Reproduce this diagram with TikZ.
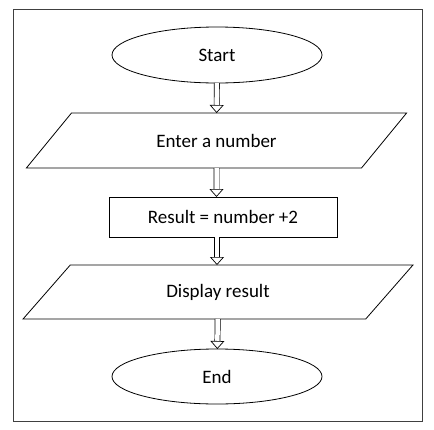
\documentclass[tikz,border=0pt]{standalone}
\usepackage{fontspec}
\setmainfont{Carlito}
\usetikzlibrary{shapes.geometric,arrows.meta}
\begin{document}
\begin{tikzpicture}[x=1pt,y=-1pt,
	every node/.style={font=\fontsize{19}{22}\selectfont,inner sep=0pt,outer sep=0pt,line width=0.8pt},
	term/.style={ellipse,draw,minimum width=210pt,minimum height=56pt},
	io/.style={trapezium,trapezium stretches=true,draw,minimum height=55pt},
	proc/.style={rectangle,draw,minimum width=228pt,minimum height=40pt},
	flow/.style={double,double distance=4.5pt,line width=0.7pt,-{Triangle[open,length=8pt,width=14pt]}}]
\useasboundingbox (0,0) rectangle (434,429);
\draw[line width=0.9pt,black!75] (13,9) rectangle (422,421);

\node[term] at (217,55) (start) {Start};
\node[io,trapezium left angle=35.5,trapezium right angle=144.5,minimum width=381pt] at (216.5,140.5) (enter) {Enter a number};
\node[proc] at (223,217) (calc) {Result = number +2};
\node[io,trapezium left angle=44.5,trapezium right angle=135.5,minimum width=390pt,minimum height=54pt] at (218,292) (show) {Display result};
\node[term,minimum height=55pt] at (217,376.5) (end) {End};

% arrow ends on the middle line x=217
\coordinate (c1) at (217,237);
\coordinate (c2) at (217,265);

\draw[flow] (start) -- (enter);
\draw[flow] (enter) -- (enter |- calc.north);
\draw[flow] (c1) -- (c2);
\draw[flow] (show) -- (end);
\end{tikzpicture}
\end{document}
